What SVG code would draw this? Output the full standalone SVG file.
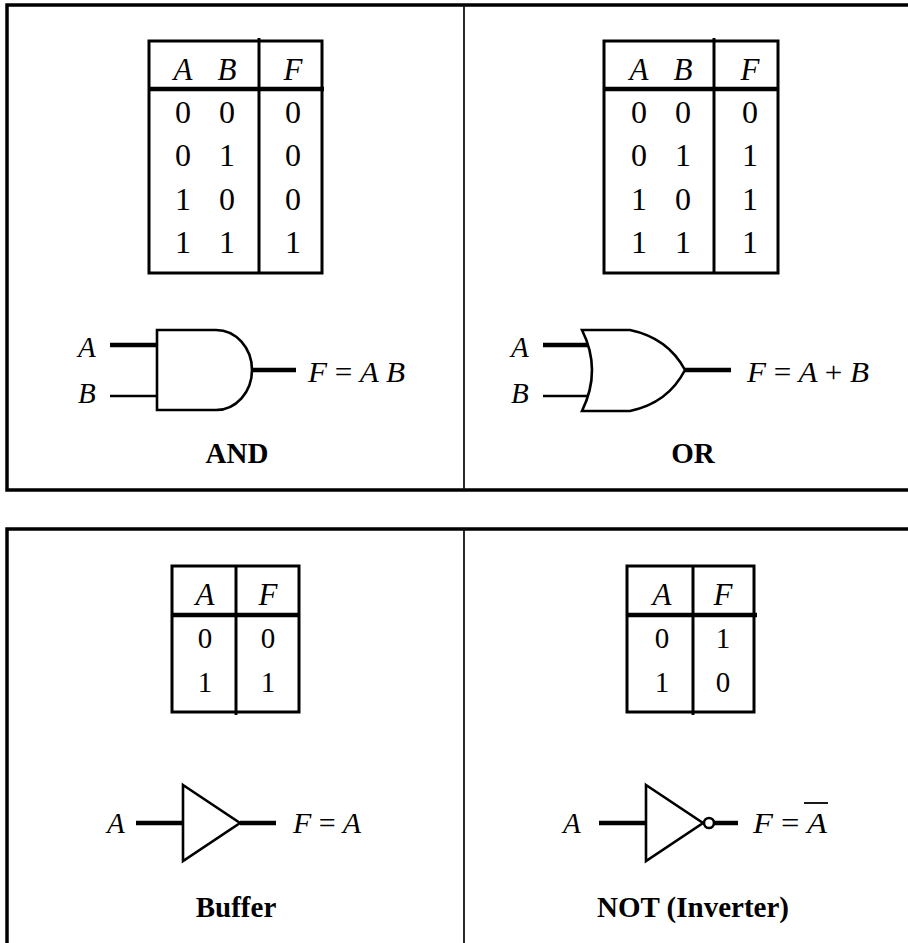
<svg xmlns="http://www.w3.org/2000/svg" width="908" height="943" viewBox="0 0 908 943">
<style>
.frame{stroke:#000;stroke-width:3.5;fill:none}
.div{stroke:#111;stroke-width:1.8;fill:none}
.tb{stroke:#000;stroke-width:3;fill:none}
.hl{stroke:#000;stroke-width:4.5}
.gate{stroke:#000;stroke-width:2.6;fill:#fff;stroke-linejoin:miter}
.wt{stroke:#000;stroke-width:4.5}
.wn{stroke:#000;stroke-width:2.6}
text{font-family:"Liberation Serif","Times New Roman",serif;fill:#000}
.v{font-style:italic;font-size:29px}
.f{font-style:italic;font-size:29px}
.d{font-size:32px;text-anchor:middle}
.d2{font-size:29px;text-anchor:middle}
.h{font-style:italic;font-size:31px;text-anchor:middle}
.n{font-weight:bold;font-size:29px;text-anchor:middle}
.eq{font-style:normal}
</style>
<rect width="908" height="943" fill="#fff"/>
<g id="frames">
<path class="frame" d="M908,5 H7 V490 H908"/>
<path class="frame" d="M908,529 H7 V943"/>
<line class="div" x1="464" y1="5" x2="464" y2="490"/>
<line class="div" x1="464" y1="529" x2="464" y2="943"/>
</g>
<g id="and-table">
<rect class="tb" x="149" y="41" width="173" height="232"/>
<line class="tb" x1="259" y1="38" x2="259" y2="273"/>
<line class="hl" x1="149" y1="89" x2="324" y2="89"/>
<text class="h" x="183" y="80">A</text><text class="h" x="227" y="80">B</text><text class="h" x="293" y="80">F</text>
<text class="d" x="183" y="123">0</text><text class="d" x="227" y="123">0</text><text class="d" x="293" y="123">0</text>
<text class="d" x="183" y="166">0</text><text class="d" x="227" y="166">1</text><text class="d" x="293" y="166">0</text>
<text class="d" x="183" y="210">1</text><text class="d" x="227" y="210">0</text><text class="d" x="293" y="210">0</text>
<text class="d" x="183" y="253">1</text><text class="d" x="227" y="253">1</text><text class="d" x="293" y="253">1</text>
</g>
<g id="or-table">
<rect class="tb" x="604" y="41" width="174" height="232"/>
<line class="tb" x1="714" y1="38" x2="714" y2="273"/>
<line class="hl" x1="604" y1="89" x2="778" y2="89"/>
<text class="h" x="639" y="80">A</text><text class="h" x="683" y="80">B</text><text class="h" x="750" y="80">F</text>
<text class="d" x="639" y="123">0</text><text class="d" x="683" y="123">0</text><text class="d" x="750" y="123">0</text>
<text class="d" x="639" y="166">0</text><text class="d" x="683" y="166">1</text><text class="d" x="750" y="166">1</text>
<text class="d" x="639" y="210">1</text><text class="d" x="683" y="210">0</text><text class="d" x="750" y="210">1</text>
<text class="d" x="639" y="253">1</text><text class="d" x="683" y="253">1</text><text class="d" x="750" y="253">1</text>
</g>
<g id="buf-table">
<rect class="tb" x="172" y="566" width="127" height="146"/>
<line class="tb" x1="236" y1="566" x2="236" y2="715"/>
<line class="hl" x1="172" y1="615" x2="299" y2="615"/>
<text class="h" x="205" y="605">A</text><text class="h" x="268" y="605">F</text>
<text class="d2" x="205" y="648">0</text><text class="d2" x="268" y="648">0</text>
<text class="d2" x="205" y="692">1</text><text class="d2" x="268" y="692">1</text>
</g>
<g id="not-table">
<rect class="tb" x="627" y="566" width="127" height="146"/>
<line class="tb" x1="693" y1="566" x2="693" y2="715"/>
<line class="hl" x1="627" y1="615" x2="757" y2="615"/>
<text class="h" x="662" y="605">A</text><text class="h" x="723" y="605">F</text>
<text class="d2" x="662" y="648">0</text><text class="d2" x="723" y="648">1</text>
<text class="d2" x="662" y="692">1</text><text class="d2" x="723" y="692">0</text>
</g>
<g id="connectors">
<line class="wt" x1="110" y1="345" x2="157" y2="345"/>
<line class="wn" x1="110" y1="396" x2="157" y2="396"/>
<line class="wt" x1="252" y1="370" x2="296" y2="370"/>
<line class="wt" x1="543" y1="345" x2="589" y2="345"/>
<line class="wn" x1="543" y1="396" x2="589" y2="396"/>
<line class="wt" x1="685" y1="370" x2="731" y2="370"/>
<line class="wt" x1="136" y1="823" x2="183" y2="823"/>
<line class="wt" x1="240" y1="823" x2="276" y2="823"/>
<line class="wt" x1="599" y1="823" x2="646" y2="823"/>
<line class="wt" x1="714" y1="823" x2="738" y2="823"/>
</g>
<g id="and-gate">
<path class="gate" d="M157,330 H216 A36,40 0 0 1 216,410 H157 Z"/>
<text class="v" x="78" y="357">A</text>
<text class="v" x="78" y="403">B</text>
<text class="f" x="308" y="382" textLength="97" lengthAdjust="spacingAndGlyphs">F <tspan class="eq">=</tspan> A B</text>
<text class="n" x="237" y="463">AND</text>
</g>
<g id="or-gate">
<path class="gate" d="M582,330 H630 Q668,338 685,370 Q668,403 630,411 H582 Q602,370 582,330 Z"/>
<text class="v" x="511" y="357">A</text>
<text class="v" x="511" y="403">B</text>
<text class="f" x="747" y="382" textLength="122" lengthAdjust="spacingAndGlyphs">F <tspan class="eq">=</tspan> A <tspan class="eq">+</tspan> B</text>
<text class="n" x="693" y="463">OR</text>
</g>
<g id="buffer-gate">
<path class="gate" d="M183,785 L240,823 L183,861 Z"/>
<text class="v" x="107" y="833">A</text>
<text class="f" x="293" y="833" textLength="68" lengthAdjust="spacingAndGlyphs">F <tspan class="eq">=</tspan> A</text>
<text class="n" x="236" y="917">Buffer</text>
</g>
<g id="not-gate">
<path class="gate" d="M646,785 L703,823 L646,861 Z"/>
<circle class="gate" cx="709" cy="823" r="5"/>
<text class="v" x="563" y="833">A</text>
<text class="f" x="753" y="833" textLength="74" lengthAdjust="spacingAndGlyphs">F <tspan class="eq">=</tspan> A</text>
<line x1="804" y1="803" x2="828" y2="803" stroke="#000" stroke-width="1.8"/>
<text class="n" x="693" y="917">NOT (Inverter)</text>
</g>
</svg>
